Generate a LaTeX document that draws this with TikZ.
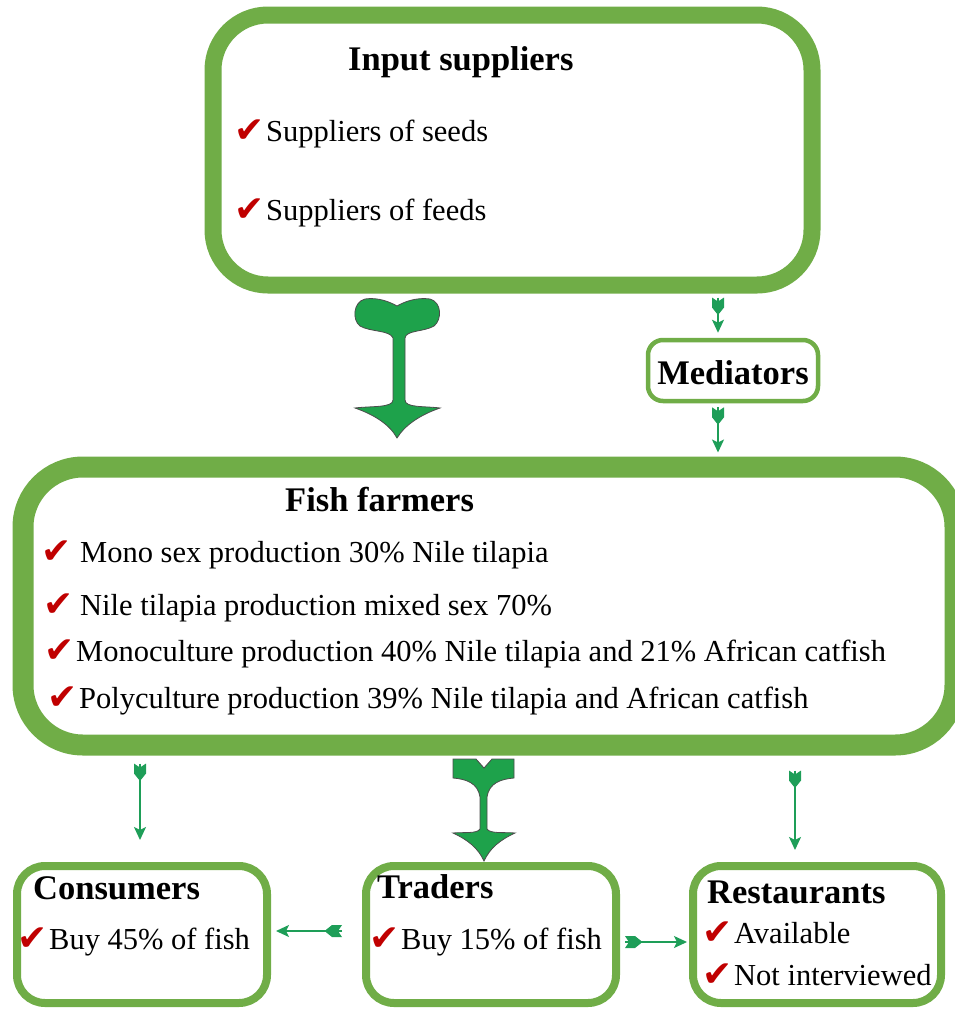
\documentclass[tikz,border=0pt]{standalone}
\usepackage{fontspec}
\setmainfont{Liberation Serif}
\newfontfamily\symfont{DejaVu Sans}
\usetikzlibrary{arrows.meta,calc,decorations.markings}
\definecolor{boxgreen}{RGB}{112,173,71}
\definecolor{bigarr}{RGB}{30,162,75}
\definecolor{smallarr}{RGB}{30,158,88}
\definecolor{tickred}{RGB}{192,0,0}
\tikzset{
  box/.style={draw=boxgreen, fill=white, inner sep=0pt},
  head/.style={font=\fontsize{34.5}{40}\selectfont\bfseries, inner sep=0pt},
  body/.style={font=\fontsize{30.5}{36}\selectfont, inner sep=0pt},
  tick/.style={font=\fontsize{36}{40}\symfont, text=tickred, inner sep=0pt, anchor=base east},
  bigarrow/.style={fill=bigarr, draw=black!70, line width=0.8pt},
  conn/.style={draw=smallarr, line width=1.8pt, -{Stealth[length=13pt,width=12pt,inset=3pt]},
    postaction={decorate},
    decoration={markings, mark=at position 0pt with {\fill[smallarr] (0,6) -- (4,0) -- (0,-6) -- (10,-6) -- (16,-1.2) -- (16,1.2) -- (10,6) -- cycle;}}}
}
\begin{document}
\begin{tikzpicture}[x=1pt,y=-1pt]
\useasboundingbox (0,0) rectangle (954,1010);
% boxes
\node[box, line width=17pt, minimum width=599pt, minimum height=270pt, rounded corners=55pt] (inp) at (512.5,150) {};
\node[box, line width=4.5pt, minimum width=170pt, minimum height=61pt, rounded corners=15pt] (med) at (733,370.5) {};
\node[box, line width=21pt, minimum width=932pt, minimum height=278pt, rounded corners=60pt] (fish) at (489,606) {};
\node[box, line width=8pt, minimum width=250pt, minimum height=137pt, rounded corners=28pt] (cons) at (142,934.5) {};
\node[box, line width=8pt, minimum width=250pt, minimum height=137pt, rounded corners=28pt] (trad) at (491,934.5) {};
\node[box, line width=8pt, minimum width=248pt, minimum height=137pt, rounded corners=28pt] (rest) at (817,934.5) {};
% texts: input suppliers
\node[head, anchor=base west] (inpT) at (348,70) {Input suppliers};
\node[body, anchor=base west] (inp1) at (266,141) {Suppliers of seeds};
\node[tick] (t1) at ($(inp1.base west)+(-1,1)$) {✔};
\node[body, anchor=base west] (inp2) at (266,220) {Suppliers of feeds};
\node[tick] (t2) at ($(inp2.base west)+(-1,1)$) {✔};
% mediators
\node[head, anchor=base] (medT) at (733,384) {Mediators};
% fish farmers
\node[head, anchor=base west] (fishT) at (285,511) {Fish farmers};
\node[body, anchor=base west] (f1) at (80,562) {Mono sex production 30\% Nile tilapia};
\node[tick] (t3) at (72,563) {✔};
\node[body, anchor=base west] (f2) at (80,615) {Nile tilapia production mixed sex 70\%};
\node[tick] (t4) at (74,616) {✔};
\node[body, anchor=base west] (f3) at (76,661) {Monoculture production 40\% Nile tilapia and 21\% African catfish};
\node[tick] (t5) at ($(f3.base west)+(-1,1)$) {✔};
\node[body, anchor=base west] (f4) at (79,708) {Polyculture production 39\% Nile tilapia and African catfish};
\node[tick] (t6) at ($(f4.base west)+(-1,1)$) {✔};
% consumers
\node[head, anchor=base west] (consT) at (33,899) {Consumers};
\node[body, anchor=base west] (c1) at (49,949) {Buy 45\% of fish};
\node[tick] (t7) at ($(c1.base west)+(-1,1)$) {✔};
% traders
\node[head, anchor=base west] (tradT) at (377,898) {Traders};
\node[body, anchor=base west] (tr1) at (401,949) {Buy 15\% of fish};
\node[tick] (t8) at ($(tr1.base west)+(-1,1)$) {✔};
% restaurants
\node[head, anchor=base west] (restT) at (707,903) {Restaurants};
\node[body, anchor=base west] (r1) at (734,943) {Available};
\node[tick] (t9) at ($(r1.base west)+(-1,1)$) {✔};
\node[body, anchor=base west] (r2) at (734,985) {Not interviewed};
\node[tick] (t10) at ($(r2.base west)+(-1,1)$) {✔};
% helper x positions
\coordinate (x718) at (718,0);
\coordinate (x140) at (140,0);
\coordinate (x795) at (795,0);
% small connectors
\draw[conn] ($(inp.south -| x718)+(0,4)$) -- ($(med.north -| x718)+(0,-5)$);
\draw[conn] ($(med.south -| x718)+(0,4)$) -- ($(fish.north -| x718)+(0,-4)$);
\draw[conn] ($(fish.south -| x140)+(0,8)$) -- ($(cons.north -| x140)+(0,-22)$);
\draw[conn] ($(fish.south -| x795)+(0,15)$) -- ($(rest.north -| x795)+(0,-12)$);
\draw[conn] ($(trad.west)+(-20,-3.5)$) -- ($(cons.east)+(5,-3.5)$);
\draw[conn] ($(trad.east)+(5,7.5)$) -- ($(rest.west)+(-2,7.5)$);
% big arrow input -> fish farmers
\draw[bigarrow] (393,338) .. controls (390,330) and (370,332) .. (360,326)
  .. controls (352,320) and (353,302) .. (365,299)
  .. controls (378,297) and (390,302) .. (397,306)
  .. controls (404,302) and (416,297) .. (430,299)
  .. controls (442,302) and (442,320) .. (434,326)
  .. controls (424,332) and (406,330) .. (405,338)
  -- (405,400) .. controls (405,408) and (425,406) .. (440,408)
  .. controls (420,415) and (405,425) .. (397,438)
  .. controls (390,425) and (375,415) .. (355,408)
  .. controls (370,406) and (393,408) .. (393,400) -- cycle;
% big arrow fish farmers -> traders
\draw[bigarrow] (480,797) .. controls (478,783) and (466,779) .. (453,778)
  -- (453,759) -- (476,759) -- (484,768) -- (492,759) -- (514,759) -- (514,778)
  .. controls (501,779) and (489,783) .. (487,797)
  -- (487,829) .. controls (490,834) and (505,832) .. (515,833)
  .. controls (500,840) and (490,848) .. (484,861)
  .. controls (478,848) and (468,840) .. (453,833)
  .. controls (463,832) and (477,834) .. (480,829) -- cycle;
\end{tikzpicture}
\end{document}
